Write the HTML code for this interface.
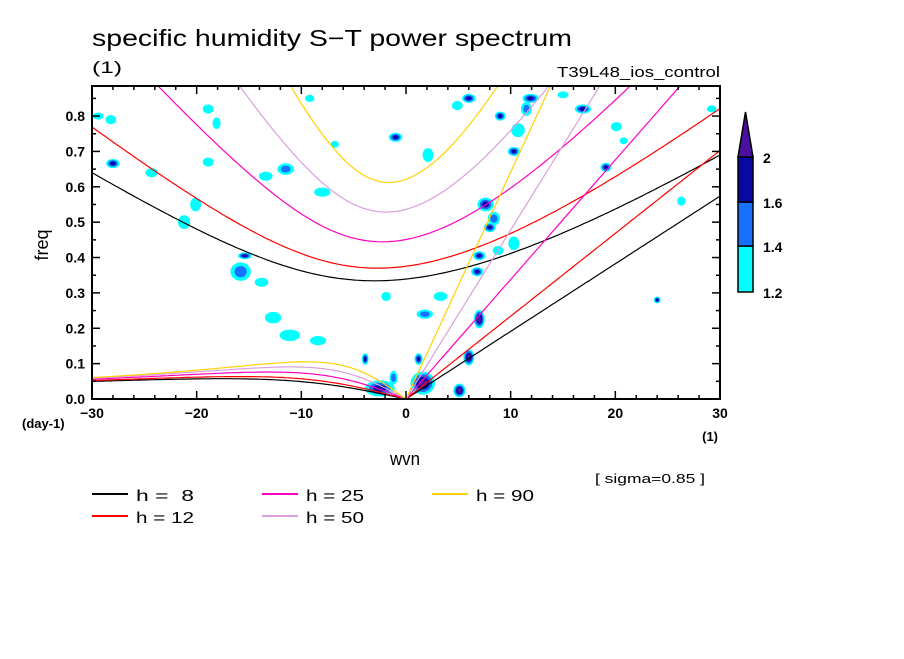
<!DOCTYPE html>
<html><head><meta charset="utf-8"><style>
body{margin:0;background:#fff;}
svg text{font-family:"Liberation Sans",sans-serif;white-space:pre;}
</style></head><body>
<svg id="chart" width="904" height="654" viewBox="0 0 904 654" xmlns="http://www.w3.org/2000/svg">
<rect width="904" height="654" fill="#fff"/>
<g id="contours"></g>
<g id="curves"></g>
<rect x="92" y="86" width="628" height="313" fill="none" stroke="#000" stroke-width="2"/>
<g id="ticks"></g>
<text x="92" y="46" font-size="23" textLength="480" lengthAdjust="spacingAndGlyphs">specific humidity S−T power spectrum</text>
<text x="92" y="73" font-size="17" textLength="30" lengthAdjust="spacingAndGlyphs">(1)</text>
<text x="557" y="77" font-size="15" textLength="163" lengthAdjust="spacingAndGlyphs">T39L48_ios_control</text>
<text x="48" y="245" font-size="18" text-anchor="middle" transform="rotate(-90 48 245)">freq</text>
<text x="22" y="428" font-size="13" font-weight="bold">(day-1)</text>
<text x="718" y="441" font-size="13" font-weight="bold" text-anchor="end">(1)</text>
<text x="390" y="465" font-size="18" textLength="30" lengthAdjust="spacingAndGlyphs">wvn</text>
<text x="595" y="483" font-size="13" textLength="110" lengthAdjust="spacingAndGlyphs">[ sigma=0.85 ]</text>
<g id="legend"></g>
<g id="colorbar"></g>
</svg>
<script>
const hValues = [8, 12, 25, 50, 90];
const hColors = ['#000000', '#ff0000', '#ff00c0', '#d8a0dc', '#ffd200'];
const xTickLabels = ['-30', '-20', '-10', '0', '10', '20', '30'];
const yTickLabels = ['0.0', '0.1', '0.2', '0.3', '0.4', '0.5', '0.6', '0.7', '0.8'];
const levelColors = ['#00ffff', '#1870ff', '#0808a4', '#4a10a0'];
const levelLabels = ['1.2', '1.4', '1.6', '2'];
// blobs: wavenumber, frequency, half-width (wvn), half-height (freq), max level (1..4)
const blobWvn  = [-28,-29.4,-28.2,-24.3,-18.9,-11.5,-13.4,-18.1,-1,2.1,6,4.9,9,11.9,11.5,16.9,15,10.7,10.3,7.6,8.4,8,10.3,7,6.8,19.1,-20.1,-21.2,-15.4,-15.8,-13.8,-12.7,-11.1,-8.4,-1.9,1.8,3.3,8.8,24,20.1,26.3,29.2,20.8,-18.9,-9.2,-8,-6.8,7,6,5.1,1.2,-3.9,1.6,-2.5,-1.2];
const blobFreq = [0.666,0.80,0.79,0.64,0.67,0.65,0.63,0.78,0.74,0.69,0.85,0.83,0.80,0.85,0.82,0.82,0.86,0.76,0.70,0.55,0.51,0.485,0.44,0.405,0.36,0.655,0.55,0.50,0.405,0.36,0.33,0.23,0.18,0.165,0.29,0.24,0.29,0.42,0.28,0.77,0.56,0.82,0.73,0.82,0.85,0.585,0.72,0.226,0.118,0.024,0.113,0.113,0.045,0.03,0.06];
const blobRx   = [1.0,0.8,0.8,0.9,0.8,1.2,1.0,0.6,1.0,0.8,1.0,0.8,0.8,1.2,0.8,1.2,0.8,1.0,0.9,1.2,0.9,0.9,0.8,0.9,0.9,0.8,0.8,0.9,1.0,1.5,1.0,1.2,1.5,1.2,0.7,1.2,1.0,0.8,0.5,0.8,0.6,0.7,0.6,0.8,0.7,1.2,0.6,0.8,0.8,0.9,0.6,0.5,1.8,2.2,0.6];
const blobRy   = [0.02,0.015,0.02,0.02,0.02,0.025,0.02,0.025,0.02,0.03,0.02,0.02,0.02,0.02,0.03,0.02,0.015,0.03,0.02,0.03,0.03,0.02,0.03,0.02,0.02,0.02,0.03,0.03,0.015,0.04,0.02,0.025,0.025,0.02,0.02,0.02,0.02,0.02,0.015,0.02,0.02,0.015,0.015,0.02,0.015,0.02,0.015,0.04,0.035,0.03,0.025,0.025,0.05,0.035,0.03];
const blobLevel= [3,1,1,1,1,2,1,1,3,1,3,1,3,3,2,3,1,1,3,3,2,3,1,3,3,3,1,1,3,2,1,1,1,1,1,2,1,1,3,1,1,1,1,1,1,1,1,4,4,4,3,3,4,3,2];

const NS='http://www.w3.org/2000/svg';
const X0=92,X1=720,Y0=399,Y1=86,XMIN=-30,XMAX=30,YMAX=0.885;
const xs=v=>X0+(v-XMIN)/(XMAX-XMIN)*(X1-X0);
const ys=v=>Y0-v/YMAX*(Y0-Y1);
function mk(tag,attrs,parent){const e=document.createElementNS(NS,tag);for(const k in attrs)e.setAttribute(k,attrs[k]);parent.appendChild(e);return e;}

const defs=mk('defs',{},document.getElementById('chart'));
const cp=mk('clipPath',{id:'pc'},defs);mk('rect',{x:X0,y:Y1,width:X1-X0,height:Y0-Y1},cp);
const cg=document.getElementById('contours');cg.setAttribute('clip-path','url(#pc)');
const SZ=0.65;
for(let i=0;i<blobWvn.length;i++){
  const L=blobLevel[i];
  for(let l=1;l<=L;l++){
    const s=SZ*(1-(l-1)/(L+0.5));
    const e=mk('ellipse',{cx:xs(blobWvn[i]),cy:ys(blobFreq[i]),rx:blobRx[i]*s*(X1-X0)/60,ry:blobRy[i]*s*(Y0-Y1)/YMAX,fill:levelColors[l-1]},cg);
    
    
  }
}

const g=9.81,a=6.371e6,beta=2*7.292e-5/a,toCpd=86400/(2*Math.PI);
function roots(s,c,n){
  const k=s/a;const p=-(c*c*k*k+(2*n+1)*beta*c),q=-beta*k*c*c;
  const m=2*Math.sqrt(-p/3);const th=Math.acos(Math.max(-1,Math.min(1,(3*q/(2*p))*Math.sqrt(-3/p))))/3;
  return [0,1,2].map(j=>m*Math.cos(th-2*Math.PI*j/3)).sort((u,v)=>v-u);
}
const crv=document.getElementById('curves');crv.setAttribute('clip-path','url(#pc)');
hValues.forEach((h,i)=>{
  const c=Math.sqrt(g*h);
  let ig=[],er=[],kv=[];
  for(let s=-30;s<=30.001;s+=0.25){
    const r=roots(s,c,1);
    ig.push([xs(s),ys(r[0]*toCpd)]);
    if(s<=0){const w=s<0?r[1]:0;er.push([xs(s),ys(Math.max(0,w)*toCpd)]);}
    if(s>=0)kv.push([xs(s),ys(c*s/a*toCpd)]);
  }
  [[ig,'ig'],[er,'rossby'],[kv,'kelvin']].forEach(([pts,nm])=>{
    const e=mk('polyline',{points:pts.map(p=>p[0].toFixed(1)+','+p[1].toFixed(1)).join(' '),fill:'none',stroke:hColors[i],'stroke-width':1.2},crv);
    
    
  });
});

const tg=document.getElementById('ticks');
for(let v=-30;v<=30;v+=2){const len=(v%10===0)?8:4;
  [[Y0,-len],[Y1,len]].forEach(([y,d])=>{const e=mk('line',{x1:xs(v),x2:xs(v),y1:y,y2:y+d,stroke:'#000','stroke-width':1.5},tg);});}
for(let v=0;v<=0.88;v+=0.05){const len=(Math.round(v*100)%10===0)?8:4;
  [[X0,len],[X1,-len]].forEach(([x,d])=>{const e=mk('line',{x1:x,x2:x+d,y1:ys(v),y2:ys(v),stroke:'#000','stroke-width':1.5},tg);});}
xTickLabels.forEach(t=>{const e=mk('text',{x:xs(+t),y:418,'font-size':14,'font-weight':'bold','text-anchor':'middle'},tg);e.textContent=t.replace('-','−');});
yTickLabels.forEach(t=>{const e=mk('text',{x:85,y:ys(+t)+5,'font-size':14,'font-weight':'bold','text-anchor':'end'},tg);e.textContent=t;});

const lg=document.getElementById('legend');
const lpos=[[92,494],[92,516],[262,494],[262,516],[432,494]];
hValues.forEach((h,i)=>{const [x,y]=lpos[i];
  const l=mk('line',{x1:x,x2:x+36,y1:y,y2:y,stroke:hColors[i],'stroke-width':2},lg);
  
  
  const t=mk('text',{x:x+44,y:y+7,'font-size':16,textLength:58,lengthAdjust:'spacingAndGlyphs'},lg);t.textContent='h = '+(h<10?' '+h:h);
  
  
});

const cb=document.getElementById('colorbar');
const cbY=[292,246,202,157];
for(let i=0;i<3;i++){const r=mk('rect',{x:738,y:cbY[i+1],width:15,height:cbY[i]-cbY[i+1],fill:levelColors[i],stroke:'#000','stroke-width':1.5},cb);}
const tri=mk('polygon',{points:'738,157 753,157 745.5,112',fill:levelColors[3],stroke:'#000','stroke-width':1.5},cb);


levelLabels.forEach((t,i)=>{const e=mk('text',{x:763,y:cbY[i]+6,'font-size':14,'font-weight':'bold'},cb);e.textContent=t;});
</script>
</body></html>
